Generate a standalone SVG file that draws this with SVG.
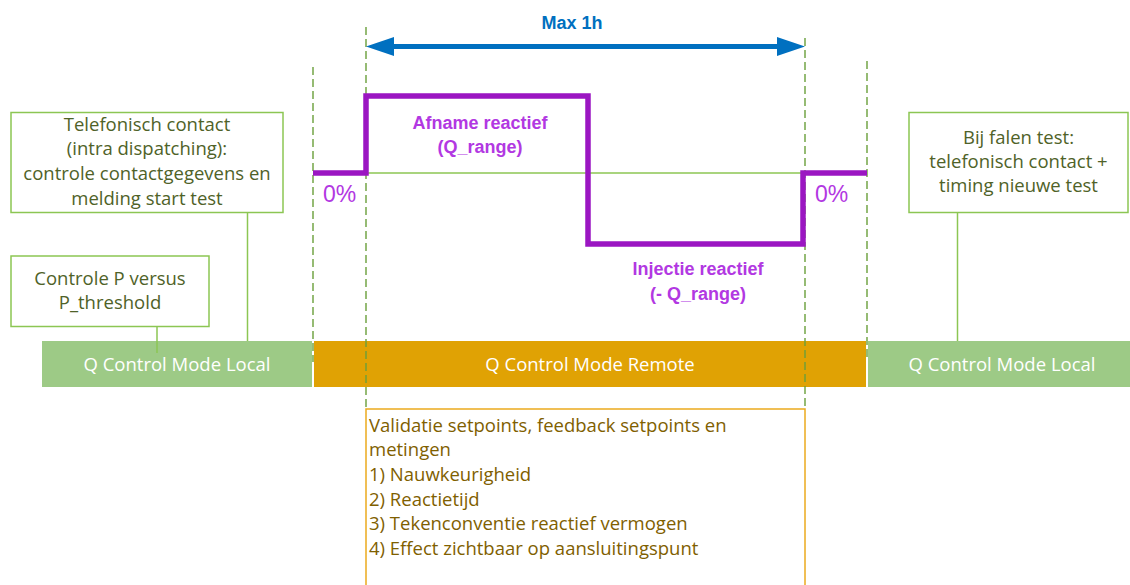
<svg xmlns="http://www.w3.org/2000/svg" width="1130" height="585" viewBox="0 0 1130 585">
  <defs>
    <style>
      .box { fill: #ffffff; stroke: #8CC653; stroke-width: 1.5; }
      .conn { stroke: #8CC653; stroke-width: 1.5; fill: none; }
      .dash { stroke: #6A9F3A; stroke-width: 1.4; stroke-dasharray: 8 4; fill: none; }
      .txt { font-family: "Open Sans", "Liberation Sans", Arial, sans-serif; font-size: 18.5px; fill: #4F6228; text-anchor: middle; }
      .bartxt { font-family: "Open Sans", "Liberation Sans", Arial, sans-serif; font-size: 18.5px; fill: #ffffff; text-anchor: middle; }
      .ptxt { font-family: "Liberation Sans", Arial, sans-serif; font-size: 18px; font-weight: bold; fill: #B238E2; text-anchor: middle; }
      .pct { font-family: "Liberation Sans", Arial, sans-serif; font-size: 23px; fill: #B238E2; }
      .vtxt { font-family: "Open Sans", "Liberation Sans", Arial, sans-serif; font-size: 18.5px; fill: #7F6000; }
      .arrow { fill: #0070C0; }
    </style>
  </defs>

  <!-- mode bars -->
  <g id="bar-local-left">
    <rect x="42" y="341" width="270" height="46" fill="#9DCA86"/>
    <text class="bartxt" x="177" y="371">Q Control Mode Local</text>
  </g>
  <g id="bar-remote">
    <rect x="314" y="341" width="552" height="46" fill="#E0A204"/>
    <text class="bartxt" x="590" y="371">Q Control Mode Remote</text>
  </g>
  <g id="bar-local-right">
    <rect x="868" y="341" width="262" height="46" fill="#9DCA86"/>
    <text class="bartxt" x="1002" y="371">Q Control Mode Local</text>
  </g>

  <!-- connectors and guide lines -->
  <g id="connectors">
    <line class="conn" x1="247.5" y1="212.5" x2="247.5" y2="341"/>
    <line class="conn" x1="157" y1="326.5" x2="157" y2="353"/>
    <line class="conn" x1="957.5" y1="212.5" x2="957.5" y2="341"/>
    <line class="dash" x1="313" y1="67" x2="313" y2="362"/>
    <line class="dash" x1="366" y1="27" x2="366" y2="409"/>
    <line class="dash" x1="805" y1="38" x2="805" y2="409"/>
    <line class="dash" x1="867" y1="61" x2="867" y2="358"/>
    <line x1="366" y1="173" x2="805" y2="173" stroke="#8CC653" stroke-width="1.5"/>
    <line x1="390" y1="46.5" x2="780" y2="46.5" stroke="#0070C0" stroke-width="5"/>
    <polygon class="arrow" points="366,46.5 394,37 394,56"/>
    <polygon class="arrow" points="805,46.5 777,37 777,56"/>
  </g>

  <!-- reactive power profile -->
  <g id="profile">
    <path d="M313,173 H366 V96 H588 V244 H803 V173 H867" fill="none" stroke="#9B16C2" stroke-width="5.5" stroke-linejoin="miter"/>
  </g>

  <g id="label-max">
    <text x="572" y="29" font-family="Liberation Sans, Arial, sans-serif" font-size="18" font-weight="bold" fill="#0070C0" text-anchor="middle">Max 1h</text>
  </g>
  <g id="label-afname">
    <text class="ptxt" x="480" y="129">Afname reactief</text>
    <text class="ptxt" x="480" y="153">(Q_range)</text>
  </g>
  <g id="label-injectie">
    <text class="ptxt" x="698" y="275">Injectie reactief</text>
    <text class="ptxt" x="698" y="300">(- Q_range)</text>
  </g>
  <g id="label-0-left">
    <text class="pct" x="323" y="202">0%</text>
  </g>
  <g id="label-0-right">
    <text class="pct" x="815" y="202">0%</text>
  </g>

  <!-- text boxes -->
  <g id="box-telefonisch">
    <rect class="box" x="11" y="112.5" width="272" height="100"/>
    <text class="txt" x="147" y="131">Telefonisch contact</text>
    <text class="txt" x="147" y="155">(intra dispatching):</text>
    <text class="txt" x="147" y="180">controle contactgegevens en</text>
    <text class="txt" x="147" y="205">melding start test</text>
  </g>
  <g id="box-controle">
    <rect class="box" x="11" y="256" width="198" height="70.5"/>
    <text class="txt" x="110" y="285">Controle P versus</text>
    <text class="txt" x="110" y="309">P_threshold</text>
  </g>
  <g id="box-falen">
    <rect class="box" x="909" y="112.5" width="219" height="100"/>
    <text class="txt" x="1018.5" y="144">Bij falen test:</text>
    <text class="txt" x="1018.5" y="168">telefonisch contact +</text>
    <text class="txt" x="1018.5" y="192">timing nieuwe test</text>
  </g>
  <g id="box-validatie">
    <rect x="366" y="409" width="439" height="200" fill="#ffffff" stroke="#EBAA1E" stroke-width="1.5"/>
    <text class="vtxt" x="369" y="432">Validatie setpoints, feedback setpoints en</text>
    <text class="vtxt" x="369" y="456">metingen</text>
    <text class="vtxt" x="369" y="481">1) Nauwkeurigheid</text>
    <text class="vtxt" x="369" y="506">2) Reactietijd</text>
    <text class="vtxt" x="369" y="530">3) Tekenconventie reactief vermogen</text>
    <text class="vtxt" x="369" y="555">4) Effect zichtbaar op aansluitingspunt</text>
  </g>
</svg>
